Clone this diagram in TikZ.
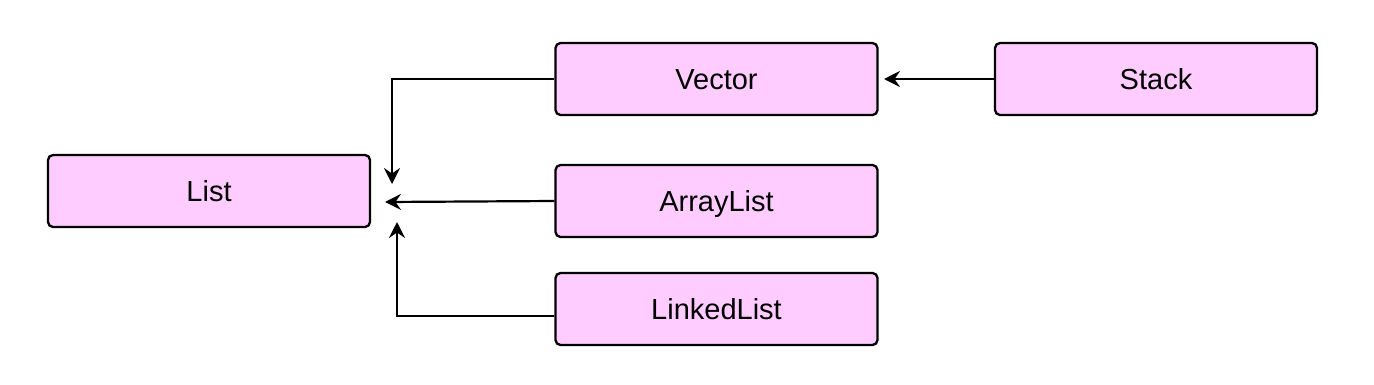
\documentclass[tikz,border=0pt]{standalone}
\usepackage{fontspec}
\setmainfont{Liberation Sans}
\usetikzlibrary{arrows.meta}
\definecolor{boxfill}{HTML}{FFCCFF}
\begin{document}
\begin{tikzpicture}[x=1pt,y=-1pt,
  cls/.style={draw=black, line width=2.3pt, fill=boxfill, rounded corners=5pt,
    minimum width=322pt, minimum height=72pt, inner sep=0pt,
    text height=21pt, text depth=0pt,
    font=\fontsize{29}{34}\selectfont},
  conn/.style={draw=black, line width=2.2pt, -{Stealth[length=16pt,width=16pt,inset=5.5pt]}}]
\useasboundingbox (0,0) rectangle (1374,384);
\node[cls] (list) at (209,191) {List};
\node[cls] (vector) at (716.5,79) {Vector};
\node[cls] (stack) at (1156,79) {Stack};
\node[cls] (arraylist) at (716.5,201) {ArrayList};
\node[cls] (linkedlist) at (716.5,309) {LinkedList};
\coordinate (t1) at (392,184);
\coordinate (t2) at (385,202);
\coordinate (t3) at (397,222);
\coordinate (t4) at (884,79);
\draw[conn] (vector.west) -| (t1);
\draw[conn] (arraylist.west) -- (t2);
\draw[conn] (linkedlist.west |- 0,316) -| (t3);
\draw[conn] (stack.west) -- (t4);
\end{tikzpicture}
\end{document}
